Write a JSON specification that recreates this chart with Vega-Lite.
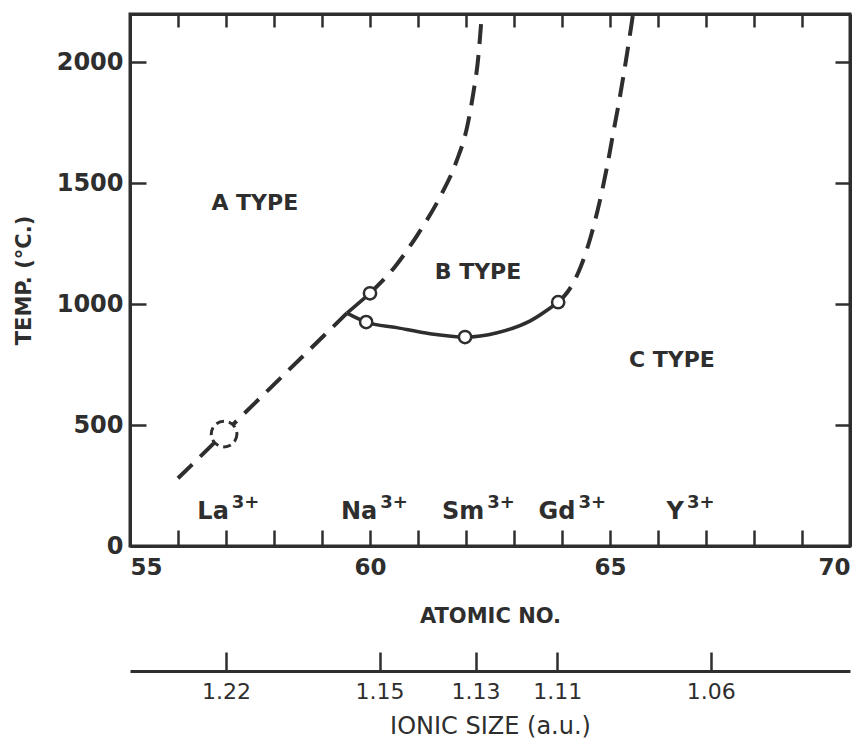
{
  "$schema": "https://vega.github.io/schema/vega-lite/v6.json",
  "width": 720,
  "height": 532,
  "autosize": "none",
  "padding": {"left": 130, "top": 14, "right": 15, "bottom": 202},
  "background": "white",
  "config": {
    "view": {"stroke": "#2e2e2e", "strokeWidth": 3},
    "axis": {
      "domainColor": "#2e2e2e", "domainWidth": 3,
      "tickColor": "#2e2e2e", "tickWidth": 2.5,
      "labelFont": "DejaVu Sans", "labelColor": "#2e2e2e", "labelFontWeight": "bold",
      "titleFont": "DejaVu Sans", "titleColor": "#2e2e2e", "titleFontWeight": "bold",
      "grid": false
    },
    "text": {"font": "DejaVu Sans", "color": "#2e2e2e", "fontWeight": "bold"}
  },
  "datasets": {
    "lowerDash": [{"z": 56.0, "t": 280}, {"z": 59.52, "t": 963}],
    "shortSolid": [{"z": 59.52, "t": 963}, {"z": 60.0, "t": 1045}],
    "solidCurve": [
      {"z": 59.52, "t": 963}, {"z": 59.92, "t": 926}, {"z": 60.56, "t": 903},
      {"z": 61.25, "t": 878}, {"z": 61.98, "t": 864}, {"z": 62.65, "t": 882},
      {"z": 63.33, "t": 930}, {"z": 63.92, "t": 1008}
    ],
    "upperLeft": [
      {"z": 60.0, "t": 1045}, {"z": 60.5, "t": 1150}, {"z": 61.0, "t": 1290},
      {"z": 61.45, "t": 1440}, {"z": 61.8, "t": 1590}, {"z": 62.02, "t": 1730},
      {"z": 62.15, "t": 1870}, {"z": 62.25, "t": 2010}, {"z": 62.33, "t": 2200}
    ],
    "upperRight": [
      {"z": 63.92, "t": 1008}, {"z": 64.15, "t": 1060}, {"z": 64.4, "t": 1160},
      {"z": 64.6, "t": 1280}, {"z": 64.78, "t": 1420}, {"z": 64.93, "t": 1560},
      {"z": 65.06, "t": 1700}, {"z": 65.2, "t": 1850}, {"z": 65.35, "t": 2030},
      {"z": 65.48, "t": 2200}
    ],
    "circles": [
      {"z": 60.0, "t": 1045}, {"z": 59.92, "t": 926}, {"z": 61.98, "t": 864}, {"z": 63.92, "t": 1008}
    ],
    "laCircle": [{"z": 56.96, "t": 463}],
    "types": [
      {"label": "A TYPE", "z": 57.6, "t": 1417},
      {"label": "B TYPE", "z": 62.25, "t": 1132},
      {"label": "C TYPE", "z": 66.29, "t": 769}
    ],
    "ions": [
      {"ion": "La", "charge": "3+", "z": 57.08},
      {"ion": "Na", "charge": "3+", "z": 60.17},
      {"ion": "Sm", "charge": "3+", "z": 62.4},
      {"ion": "Gd", "charge": "3+", "z": 64.3},
      {"ion": "Y", "charge": "3+", "z": 66.56}
    ]
  },
  "layer": [
    {
      "data": {"name": "lowerDash"},
      "mark": {"type": "line", "stroke": "#2e2e2e", "strokeWidth": 4, "strokeDash": [20, 11]},
      "encoding": {
        "x": {"field": "z", "type": "quantitative", "scale": {"domain": [55, 70], "nice": false, "zero": false},
          "axis": {"orient": "bottom", "values": [55,56,57,58,59,60,61,62,63,64,65,66,67,68,69,70],
            "tickSize": -16, "labelExpr": "datum.value % 5 === 0 ? datum.label : ''",
            "labelFontSize": 23, "labelPadding": 26, "title": "ATOMIC NO.", "titleFontSize": 21, "titlePadding": 26}},
        "y": {"field": "t", "type": "quantitative", "scale": {"domain": [0, 2200], "nice": false},
          "axis": {"orient": "left", "values": [0, 500, 1000, 1500, 2000], "tickSize": -16, "format": "d",
            "labelFontSize": 24, "labelPadding": 23, "title": "TEMP. (°C.)", "titleFontSize": 21, "titlePadding": 22}}
      }
    },
    {
      "data": {"name": "shortSolid"},
      "mark": {"type": "line", "stroke": "#2e2e2e", "strokeWidth": 3.5},
      "encoding": {
        "x": {"field": "z", "type": "quantitative",
          "axis": {"orient": "top", "values": [55,56,57,58,59,60,61,62,63,64,65,66,67,68,69,70],
            "tickSize": -13, "labels": false, "title": null}},
        "y": {"field": "t", "type": "quantitative",
          "axis": {"orient": "right", "values": [0, 500, 1000, 1500, 2000], "tickSize": -15, "labels": false, "title": null}}
      }
    },
    {
      "data": {"name": "solidCurve"},
      "mark": {"type": "line", "stroke": "#2e2e2e", "strokeWidth": 3.5, "interpolate": "monotone"},
      "encoding": {
        "x": {"field": "z", "type": "quantitative",
          "axis": {"orient": "bottom", "offset": 125, "values": [57, 60.2, 62.2, 63.9, 67.1], "tickSize": -19,
            "labelExpr": "datum.value == 57 ? '1.22' : datum.value == 60.2 ? '1.15' : datum.value == 62.2 ? '1.13' : datum.value == 63.9 ? '1.11' : '1.06'",
            "labelFontSize": 22, "labelFontWeight": "normal", "labelPadding": 29,
            "title": "IONIC SIZE (a.u.)", "titleFontSize": 24, "titleFontWeight": "normal", "titlePadding": 12}},
        "y": {"field": "t", "type": "quantitative", "axis": null}
      }
    },
    {
      "data": {"name": "upperLeft"},
      "mark": {"type": "line", "stroke": "#2e2e2e", "strokeWidth": 4, "strokeDash": [20, 11], "interpolate": "monotone"},
      "encoding": {"x": {"field": "z", "type": "quantitative", "axis": null}, "y": {"field": "t", "type": "quantitative", "axis": null}}
    },
    {
      "data": {"name": "upperRight"},
      "mark": {"type": "line", "stroke": "#2e2e2e", "strokeWidth": 4, "strokeDash": [20, 11], "interpolate": "monotone"},
      "encoding": {"x": {"field": "z", "type": "quantitative", "axis": null}, "y": {"field": "t", "type": "quantitative", "axis": null}}
    },
    {
      "data": {"name": "circles"},
      "mark": {"type": "point", "shape": "circle", "size": 150, "filled": false, "fill": "white", "fillOpacity": 1, "stroke": "#2e2e2e", "strokeWidth": 2.5, "opacity": 1},
      "encoding": {"x": {"field": "z", "type": "quantitative", "axis": null}, "y": {"field": "t", "type": "quantitative", "axis": null}}
    },
    {
      "data": {"name": "laCircle"},
      "mark": {"type": "point", "shape": "circle", "size": 660, "filled": false, "fill": "white", "fillOpacity": 1, "stroke": "#2e2e2e", "strokeWidth": 3, "strokeDash": [8, 5], "opacity": 1},
      "encoding": {"x": {"field": "z", "type": "quantitative", "axis": null}, "y": {"field": "t", "type": "quantitative", "axis": null}}
    },
    {
      "data": {"name": "types"},
      "mark": {"type": "text", "fontSize": 22, "align": "center", "baseline": "middle"},
      "encoding": {"x": {"field": "z", "type": "quantitative", "axis": null}, "y": {"field": "t", "type": "quantitative", "axis": null}, "text": {"field": "label"}}
    },
    {
      "data": {"name": "ions"},
      "mark": {"type": "text", "fontSize": 24, "align": "right", "baseline": "alphabetic", "dx": -1},
      "encoding": {"x": {"field": "z", "type": "quantitative", "axis": null}, "y": {"datum": 112, "type": "quantitative", "axis": null}, "text": {"field": "ion"}}
    },
    {
      "data": {"name": "ions"},
      "mark": {"type": "text", "fontSize": 18, "align": "left", "baseline": "alphabetic", "dx": 2},
      "encoding": {"x": {"field": "z", "type": "quantitative", "axis": null}, "y": {"datum": 157, "type": "quantitative", "axis": null}, "text": {"field": "charge"}}
    }
  ],
  "resolve": {"axis": {"x": "independent", "y": "independent"}}
}
